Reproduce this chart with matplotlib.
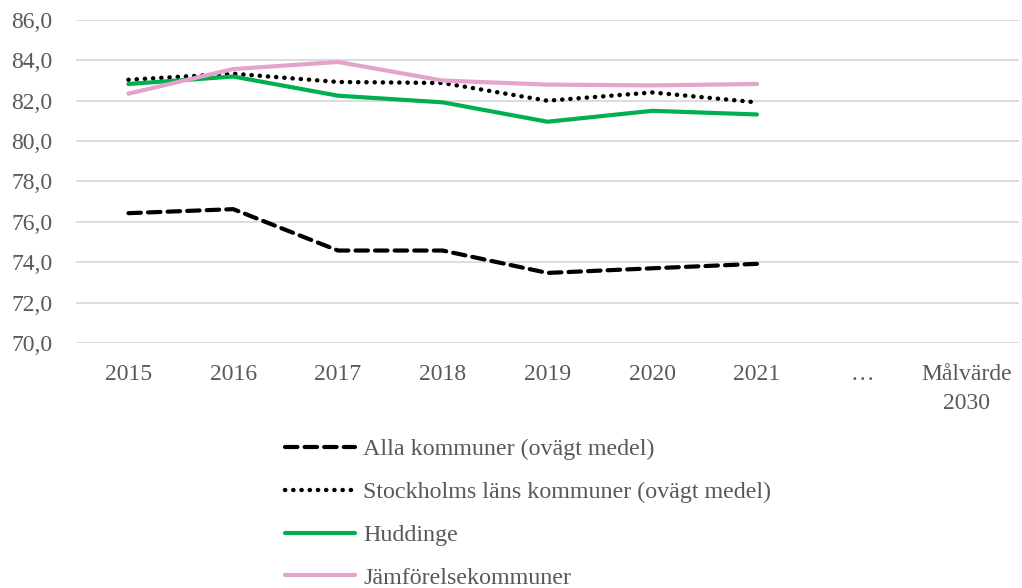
import matplotlib.pyplot as plt

plt.rcParams['font.family'] = ['Liberation Serif', 'DejaVu Serif']

# Data
categories = ['2015', '2016', '2017', '2018', '2019', '2020', '2021', '…', 'Målvärde\n2030']
years = ['2015', '2016', '2017', '2018', '2019', '2020', '2021']
alla = [76.43, 76.63, 74.58, 74.58, 73.47, 73.70, 73.92]
stockholm = [83.04, 83.34, 82.93, 82.88, 82.00, 82.41, 81.92]
huddinge = [82.83, 83.20, 82.25, 81.92, 80.96, 81.50, 81.32]
jamforelse = [82.35, 83.57, 83.92, 83.00, 82.80, 82.76, 82.83]
yticks = [70, 72, 74, 76, 78, 80, 82, 84, 86]

text_color = '#595959'
grid_color = '#d9d9d9'

fig = plt.figure(figsize=(10.22, 5.88), dpi=100)
ax = fig.add_axes([0.0744, 0.4167, 0.9226, 0.5493])

x = list(range(len(years)))
ax.plot(x, alla, color='black', lw=3, linestyle=(0, (3.0, 1.7)),
        dash_capstyle='round', solid_joinstyle='round', label='Alla kommuner (ovägt medel)', zorder=3)
ax.plot(x, stockholm, color='black', lw=3.2, linestyle=(0, (0.05, 1.8)),
        dash_capstyle='round', label='Stockholms läns kommuner (ovägt medel)', zorder=3)
ax.plot(x, huddinge, color='#00B050', lw=3, solid_capstyle='round',
        solid_joinstyle='round', label='Huddinge', zorder=3)
ax.plot(x, jamforelse, color='#E4A3CB', lw=3, solid_capstyle='round',
        solid_joinstyle='round', label='Jämförelsekommuner', zorder=3)

ax.set_xlim(-0.5, len(categories) - 0.5)
ax.set_ylim(70, 86)
ax.set_xticks(range(len(categories)))
ax.set_xticklabels(categories, linespacing=1.5)
ax.set_yticks(yticks)
ax.set_yticklabels([f'{v:.1f}'.replace('.', ',') for v in yticks])
ax.tick_params(axis='both', length=0, labelsize=17, labelcolor=text_color)
ax.tick_params(axis='x', pad=15)
ax.tick_params(axis='y', pad=17)
ax.grid(axis='y', color=grid_color, lw=1.3)
ax.set_axisbelow(True)
for s in ax.spines.values():
    s.set_visible(False)

leg = fig.legend(loc='upper left', bbox_to_anchor=(0.279, 0.254), frameon=False,
                 fontsize=17.3, handlelength=2.9, handletextpad=0.34, labelspacing=0.87,
                 borderaxespad=0, borderpad=0)
for t in leg.get_texts():
    t.set_color(text_color)

fig.savefig('out.png', dpi=100)
